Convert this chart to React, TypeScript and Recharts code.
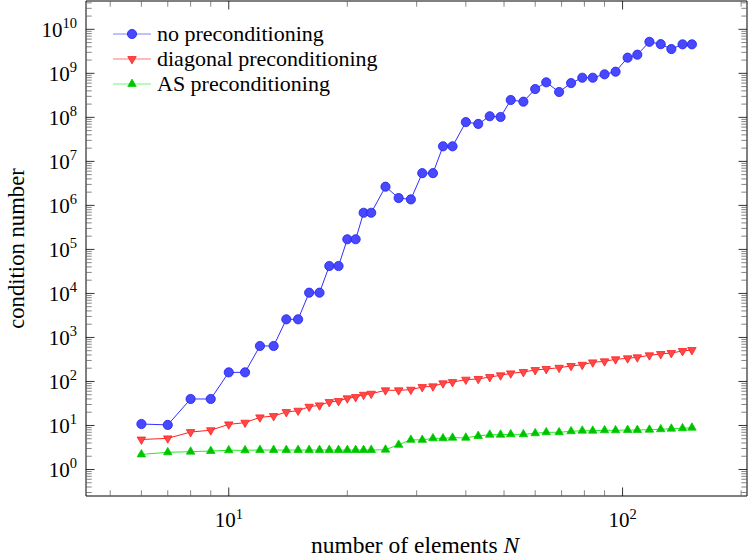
import React from 'react';
import { LineChart, Line, XAxis, YAxis } from 'recharts';

// number of elements N
const N = [
  6, 7, 8, 9, 10, 11, 12, 13, 14, 15, 16, 17, 18, 19, 20, 21, 22, 23, 25, 27, 29,
  31, 33, 35, 37, 40, 43, 46, 49, 52, 56, 60, 64, 69, 74, 79, 84, 90, 96, 103, 109,
  117, 125, 133, 142, 150,
];

// condition numbers
const noPrecond = [
  10.8, 10.3, 40, 40, 161, 161, 640, 640, 2580, 2580, 1.04e4, 1.04e4, 4.2e4, 4.2e4,
  1.7e5, 1.7e5, 6.8e5, 6.8e5, 2.66e6, 1.47e6, 1.37e6, 5.4e6, 5.4e6, 2.2e7, 2.2e7,
  7.8e7, 7.1e7, 1.06e8, 1.02e8, 2.48e8, 2.27e8, 4.4e8, 6.25e8, 3.77e8, 6.0e8, 7.95e8,
  7.95e8, 9.5e8, 1.09e9, 2.27e9, 2.65e9, 5.2e9, 4.6e9, 3.56e9, 4.56e9, 4.56e9,
];
const diagPrecond = [
  4.8, 5.1, 7.1, 7.8, 10.6, 11.6, 15.3, 16.4, 20.2, 21.7, 26.7, 28.7, 34.1, 36, 41.4,
  44.3, 50, 52.7, 63, 63, 65, 74.8, 77.6, 90.8, 97, 110, 114, 126, 138, 153, 164, 182,
  192, 205, 225, 240, 272, 287, 319, 336, 354, 393, 421, 443, 492, 518,
];
const asPrecond = [
  2.2, 2.46, 2.54, 2.63, 2.73, 2.73, 2.77, 2.77, 2.77, 2.77, 2.77, 2.77, 2.77, 2.77,
  2.77, 2.77, 2.77, 2.77, 2.82, 3.64, 4.73, 4.7, 5.11, 5.11, 5.27, 5.27, 5.77, 6.17,
  6.17, 6.3, 6.3, 6.64, 7.0, 7.0, 7.38, 7.61, 7.61, 7.77, 7.77, 7.89, 7.89, 8.02, 8.19,
  8.45, 8.63, 8.9,
];

const xTicks = [5, 6, 7, 8, 9, 10, 20, 30, 40, 50, 60, 70, 80, 90, 100, 200];
const yExponents = [-1, 0, 1, 2, 3, 4, 5, 6, 7, 8, 9, 10];

const X_DOMAIN = [4.34, 207];
const Y_DOMAIN = [0.25, 4.4e10];

const yTicks: number[] = [];
yExponents.forEach((k) => {
  for (let m = 1; m <= 9; m++) {
    const v = m * Math.pow(10, k);
    if (v >= Y_DOMAIN[0] && v <= Y_DOMAIN[1]) yTicks.push(v);
  }
});

const data = N.map((n, i) => ({
  n,
  none: noPrecond[i],
  diag: diagPrecond[i],
  as: asPrecond[i],
}));

const FONT = 'Liberation Serif, DejaVu Serif, serif';
const MAJOR_LEN = 8.5;
const MINOR_LEN = 5.7;

const W = 748;
const H = 560;
const PLOT_LEFT = 86;
const PLOT_TOP = 1;
const PLOT_BOTTOM = 496;
const PLOT_RIGHT = 747;

const isMajor = (v: number) => {
  const l = Math.log10(v);
  return Math.abs(l - Math.round(l)) < 1e-9;
};

function PowLabel({ x, y, exp, anchor }: { x: number; y: number; exp: number; anchor: 'start' | 'middle' | 'end' }) {
  return (
    <text x={x} y={y} textAnchor={anchor} fontFamily={FONT} fontSize={21} fill="#000">
      <tspan>10</tspan>
      <tspan dy={-8.5} fontSize={14.5}>{exp}</tspan>
    </text>
  );
}

const tickStroke = (major: boolean) => (major ? '#000' : '#666');

function BottomTick(props: any) {
  const { x, y, payload } = props;
  const major = isMajor(payload.value);
  const len = major ? MAJOR_LEN : MINOR_LEN;
  return (
    <g>
      <line x1={x} x2={x} y1={y} y2={y - len} stroke={tickStroke(major)} strokeWidth={0.8} />
      {major && <PowLabel x={x} y={y + 31} exp={Math.round(Math.log10(payload.value))} anchor="middle" />}
    </g>
  );
}

function TopTick(props: any) {
  const { x, y, payload } = props;
  const major = isMajor(payload.value);
  const len = major ? MAJOR_LEN : MINOR_LEN;
  return <line x1={x} x2={x} y1={y} y2={y + len} stroke={tickStroke(major)} strokeWidth={0.8} />;
}

function LeftTick(props: any) {
  const { x, y, payload } = props;
  const major = isMajor(payload.value);
  const len = major ? MAJOR_LEN : MINOR_LEN;
  const exp = Math.round(Math.log10(payload.value));
  return (
    <g>
      <line x1={x} x2={x + len} y1={y} y2={y} stroke={tickStroke(major)} strokeWidth={0.8} />
      {major && exp >= 0 && <PowLabel x={x - 9} y={y + 7.5} exp={exp} anchor="end" />}
    </g>
  );
}

function RightTick(props: any) {
  const { x, y, payload } = props;
  const major = isMajor(payload.value);
  const len = major ? MAJOR_LEN : MINOR_LEN;
  return <line x1={x} x2={x - len} y1={y} y2={y} stroke={tickStroke(major)} strokeWidth={0.8} />;
}

// markers
const circleMark = (cx: number, cy: number, key?: any) => (
  <circle key={key} cx={cx} cy={cy} r={4.6} fill="#4848ff" stroke="#2020f0" strokeWidth={0.8} />
);
const triDownMark = (cx: number, cy: number, key?: any) => {
  const r = 4.9;
  const pts = `${cx - 0.866 * r},${cy - r / 2} ${cx + 0.866 * r},${cy - r / 2} ${cx},${cy + r}`;
  return <polygon key={key} points={pts} fill="#ff4848" stroke="#ff2020" strokeWidth={0.8} />;
};
const triUpMark = (cx: number, cy: number, key?: any) => {
  const r = 4.9;
  const pts = `${cx},${cy - r} ${cx + 0.866 * r},${cy + r / 2} ${cx - 0.866 * r},${cy + r / 2}`;
  return <polygon key={key} points={pts} fill="#00c000" stroke="#00d000" strokeWidth={0.8} />;
};

const series = [
  { key: 'none', name: 'no preconditioning', color: '#3030ff', mark: circleMark },
  { key: 'diag', name: 'diagonal preconditioning', color: '#ff2020', mark: triDownMark },
  { key: 'as', name: 'AS preconditioning', color: '#20ee20', mark: triUpMark },
];

export default function App() {
  return (
    <div style={{ position: 'relative', width: W, height: H, background: '#fff' }}>
      <style>{'body{margin:0}'}</style>
      <LineChart
        width={W}
        height={H}
        data={data}
        margin={{ top: 0, right: 0, bottom: 0, left: 0 }}
      >
        <XAxis
          xAxisId="b"
          dataKey="n"
          type="number"
          scale="log"
          domain={X_DOMAIN}
          allowDataOverflow
          ticks={xTicks}
          interval={0}
          tick={<BottomTick />}
          tickLine={false}
          tickSize={0}
          tickMargin={0}
          height={H - PLOT_BOTTOM}
          axisLine={{ stroke: '#000', strokeWidth: 1 }}
        />
        <XAxis
          xAxisId="t"
          orientation="top"
          dataKey="n"
          type="number"
          scale="log"
          domain={X_DOMAIN}
          allowDataOverflow
          ticks={xTicks}
          interval={0}
          tick={<TopTick />}
          tickLine={false}
          tickSize={0}
          tickMargin={0}
          height={PLOT_TOP}
          axisLine={{ stroke: '#000', strokeWidth: 1 }}
        />
        <YAxis
          yAxisId="l"
          type="number"
          scale="log"
          domain={Y_DOMAIN}
          allowDataOverflow
          ticks={yTicks}
          interval={0}
          tick={<LeftTick />}
          tickLine={false}
          tickSize={0}
          tickMargin={0}
          width={PLOT_LEFT}
          axisLine={{ stroke: '#000', strokeWidth: 1 }}
        />
        <YAxis
          yAxisId="r"
          orientation="right"
          type="number"
          scale="log"
          domain={Y_DOMAIN}
          allowDataOverflow
          ticks={yTicks}
          interval={0}
          tick={<RightTick />}
          tickLine={false}
          tickSize={0}
          tickMargin={0}
          width={W - PLOT_RIGHT}
          axisLine={{ stroke: '#000', strokeWidth: 1 }}
        />
        {series.map((s) => (
          <Line
            key={s.key}
            xAxisId="b"
            yAxisId="l"
            dataKey={s.key}
            name={s.name}
            stroke={s.color}
            strokeWidth={1}
            isAnimationActive={false}
            dot={(p: any) => s.mark(p.cx, p.cy, `${s.key}-${p.index}`)}
            activeDot={false}
          />
        ))}
      </LineChart>

      <svg
        width={W}
        height={H}
        style={{ position: 'absolute', left: 0, top: 0, pointerEvents: 'none' }}
      >
        {series.map((s, i) => {
          const cy = 34 + i * 25;
          return (
            <g key={s.key}>
              <line x1={113} x2={151} y1={cy} y2={cy} stroke={s.color} strokeOpacity={0.6} strokeWidth={1.2} />
              {s.mark(132, cy)}
              <text x={157} y={cy + 6.5} fontFamily={FONT} fontSize={22} fill="#000">
                {s.name}
              </text>
            </g>
          );
        })}
        <text
          x={415}
          y={552.5}
          textAnchor="middle"
          fontFamily={FONT}
          fontSize={23.5}
          fill="#000"
        >
          number of elements <tspan fontStyle="italic">N</tspan>
        </text>
        <text
          x={23.5}
          y={(PLOT_TOP + PLOT_BOTTOM) / 2}
          transform={`rotate(-90, 23.5, ${(PLOT_TOP + PLOT_BOTTOM) / 2})`}
          textAnchor="middle"
          fontFamily={FONT}
          fontSize={22.7}
          fill="#000"
        >
          condition number
        </text>
      </svg>
    </div>
  );
}
